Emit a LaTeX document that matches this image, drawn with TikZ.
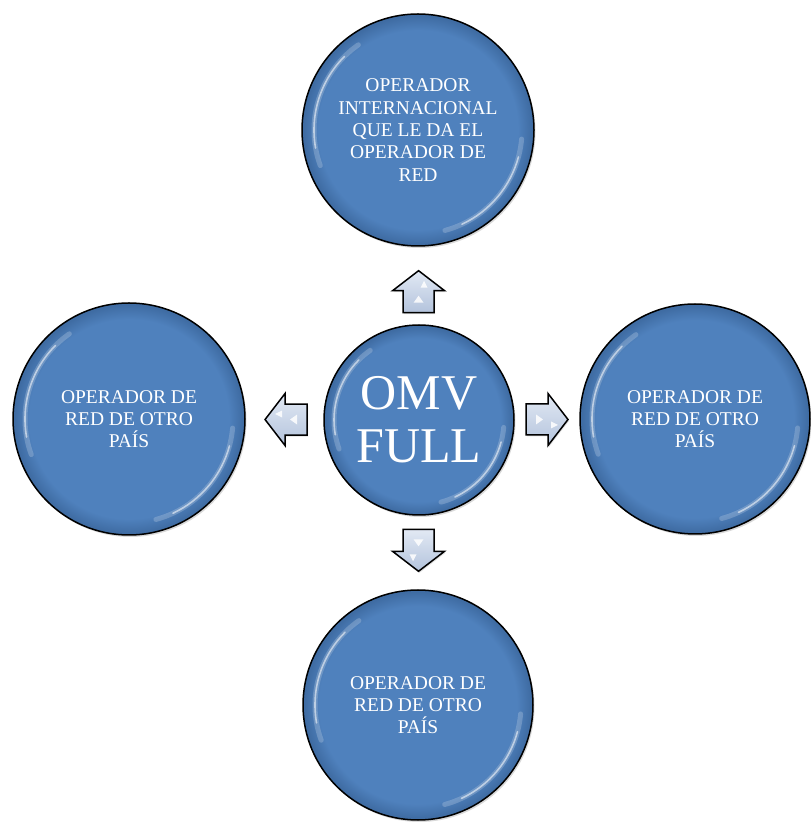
\documentclass[tikz,border=0pt]{standalone}
\usepackage{fontspec}
\setmainfont{Liberation Serif}
\usetikzlibrary{shadows,calc}
\definecolor{circblue}{HTML}{4F81BD}
\definecolor{circdark}{HTML}{3F6CA3}
\definecolor{arrtop}{HTML}{E2E9F4}
\definecolor{arrbot}{HTML}{B3C3DC}
\pgfdeclareradialshading{bubbleshade}{\pgfpoint{0bp}{0bp}}{color(0bp)=(circblue); color(21.5bp)=(circblue); color(24.6bp)=(circdark); color(25bp)=(circdark); color(50bp)=(circdark)}
\tikzset{
  bubble/.style={circle, draw=black, line width=1.5pt, shading=bubbleshade, text=white, align=center, inner sep=0pt,
    drop shadow={opacity=0.3, shadow xshift=1.5pt, shadow yshift=-2pt}},
  big/.style={bubble, minimum size=232pt, font=\fontsize{19.5}{22.3}\selectfont},
  hub/.style={bubble, minimum size=190pt, font=\fontsize{50}{53}\selectfont},
  glintwide/.style={white, line width=5pt, opacity=0.2, line cap=round},
  glintthin/.style={white, line width=1.6pt, opacity=0.55, line cap=round},
  blockarr/.style={draw=black, line width=1.5pt, top color=arrtop, bottom color=arrbot, line join=miter,
    drop shadow={opacity=0.25, shadow xshift=1pt, shadow yshift=-1.5pt}},
  arrglint/.style={fill=white, opacity=0.85}
}
\newcommand{\glossy}[2]{%
  \draw[glintwide] ($(#1.center)+(125:#2)$) arc[start angle=125, end angle=200, radius=#2];
  \draw[glintthin] ($(#1.center)+(135:#2)$) arc[start angle=135, end angle=190, radius=#2];
  \draw[glintwide] ($(#1.center)+(-75:#2)$) arc[start angle=-75, end angle=-5, radius=#2];
  \draw[glintthin] ($(#1.center)+(-65:#2)$) arc[start angle=-65, end angle=-15, radius=#2];
}
\newcommand{\blockarrow}[2]{%
  \begin{scope}[shift={(#1)}, rotate=#2]
    \draw[blockarr] (-21,-15.5) -- (1,-15.5) -- (1,-26) -- (21,0) -- (1,26) -- (1,15.5) -- (-21,15.5) -- cycle;
    \fill[arrglint] (4,-2) -- (11,-5.5) -- (4,-9) -- cycle;
    \fill[arrglint] (-11,-5) -- (-4,0) -- (-11,5) -- cycle;
  \end{scope}
}
\begin{document}
\begin{tikzpicture}[x=1pt, y=1pt]
  \useasboundingbox (0,0) rectangle (811,823);
  \node[big] (top) at (418,693) {OPERADOR\\INTERNACIONAL\\QUE LE DA EL\\OPERADOR DE\\RED};
  \node[big] (left) at (129,404) {OPERADOR DE\\RED DE OTRO\\PAÍS};
  \node[big, minimum size=230pt] (right) at (695,404) {OPERADOR DE\\RED DE OTRO\\PAÍS};
  \node[big, minimum size=230pt] (bottom) at (418,118) {OPERADOR DE\\RED DE OTRO\\PAÍS};
  \node[hub] (hub) at (419,403) {OMV\\FULL};
  \glossy{top}{104}
  \glossy{left}{104}
  \glossy{right}{103}
  \glossy{bottom}{103}
  \glossy{hub}{85}
  \coordinate (ua) at ($(hub.north)!0.42!(top.south)$);
  \coordinate (da) at ($(hub.south)!0.47!(bottom.north)$);
  \coordinate (la) at ($(hub.west)!0.48!(left.east)$);
  \coordinate (ra) at ($(hub.east)!0.5!(right.west)$);
  \blockarrow{ua}{90}
  \blockarrow{da}{-90}
  \blockarrow{la}{180}
  \blockarrow{ra}{0}
\end{tikzpicture}
\end{document}
